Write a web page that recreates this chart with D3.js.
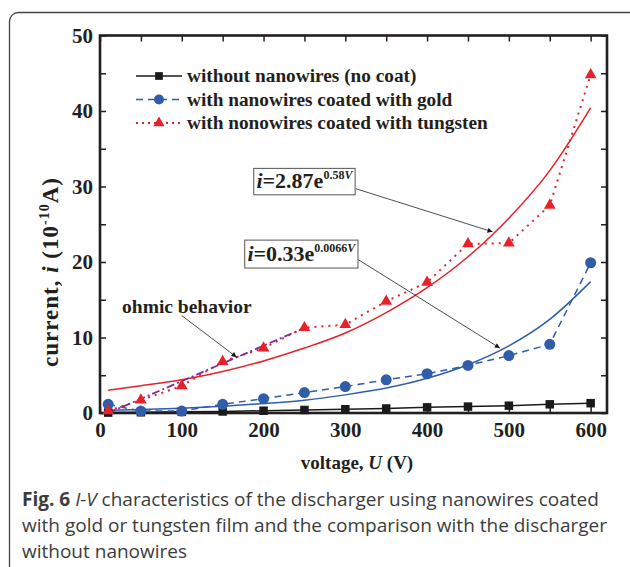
<!DOCTYPE html>
<html>
<head>
<meta charset="utf-8">
<script src="https://cdn.jsdelivr.net/npm/d3@7"></script>
<style>
  body { margin: 0; background: #fff; }
  .serif { font-family: "Liberation Serif", "Times New Roman", serif; }
  .sans { font-family: "Open Sans", "Noto Sans", sans-serif; }
</style>
</head>
<body>
<div id="chart"></div>
<script>
// voltage (V)
const volts = [10, 50, 100, 150, 200, 250, 300, 350, 400, 450, 500, 550, 600];
// current (1e-10 A)
const noCoat   = [0.05, 0.1, 0.15, 0.2, 0.3, 0.4, 0.5, 0.6, 0.75, 0.85, 0.97, 1.15, 1.3];
const gold     = [1.15, 0.26, 0.26, 1.15, 1.9, 2.7, 3.5, 4.4, 5.2, 6.3, 7.6, 9.1, 19.9];
const tungsten = [0.3, 1.7, 3.6, 6.8, 8.6, 11.3, 11.7, 14.8, 17.3, 22.4, 22.5, 27.5, 44.8];
// exponential fits
const fitGold     = [0.35, 0.46, 0.64, 0.9, 1.25, 1.7, 2.4, 3.3, 4.6, 6.4, 8.9, 12.4, 17.4];
const fitTungsten = [3.0, 3.6, 4.4, 5.5, 6.9, 8.6, 10.6, 13.3, 16.6, 20.7, 25.8, 32.1, 40.4];
// ohmic region
const ohmicV = [10, 255];
const ohmicI = [0, 11.5];

const xTicks = [0, 100, 200, 300, 400, 500, 600];
const yTicks = [0, 10, 20, 30, 40, 50];
const legendNames = ['without nanowires (no coat)', 'with nanowires coated with gold', 'with nonowires coated with tungsten'];

const W = 630, H = 567;
const red = '#e8202a', blue = '#2f5daa', black = '#1a1a1a', purple = '#7a2f98';
const ink = '#231f20';

const svg = d3.select('#chart').append('svg')
    .attr('width', W).attr('height', H);

// outer frame
svg.append('rect')
    .attr('x', 9.5).attr('y', 12.5)
    .attr('width', 630).attr('height', 566)
    .attr('rx', 9)
    .attr('fill', 'none').attr('stroke', '#444').attr('stroke-width', 1.3);

const x = d3.scaleLinear().domain([0, 620]).range([100, 607]);
const y = d3.scaleLinear().domain([0, 50]).range([413, 35.5]);

const minorX = d3.range(0, 601, 50);
const minorY = d3.range(0, 51, 5);

function styleAxis(g, labels) {
    g.select('.domain').remove();
    g.selectAll('line').attr('stroke', ink).attr('stroke-width', 1.5);
    g.selectAll('text')
        .attr('class', 'serif')
        .attr('fill', ink)
        .style('font-size', '21px')
        .style('font-weight', 'bold');
    if (!labels) g.selectAll('text').remove();
}

const fmtX = d => xTicks.includes(d) ? d : '';
const fmtY = d => yTicks.includes(d) ? d : '';

svg.append('g').attr('transform', 'translate(0,' + y(0) + ')')
    .call(d3.axisBottom(x).tickValues(minorX).tickSize(-6).tickPadding(9).tickFormat(fmtX))
    .call(g => styleAxis(g, true));
svg.append('g').attr('transform', 'translate(0,' + y(50) + ')')
    .call(d3.axisTop(x).tickValues(minorX).tickSize(-6).tickFormat(''))
    .call(g => styleAxis(g, false));
svg.append('g').attr('transform', 'translate(' + x(0) + ',0)')
    .call(d3.axisLeft(y).tickValues(minorY).tickSize(-6).tickPadding(7).tickFormat(fmtY))
    .call(g => styleAxis(g, true));
svg.append('g').attr('transform', 'translate(' + x(620) + ',0)')
    .call(d3.axisRight(y).tickValues(minorY).tickSize(-6).tickFormat(''))
    .call(g => styleAxis(g, false));

svg.append('rect')
    .attr('x', x(0)).attr('y', y(50))
    .attr('width', x(620) - x(0)).attr('height', y(0) - y(50))
    .attr('fill', 'none').attr('stroke', ink).attr('stroke-width', 2.6);

// axis titles
const xt = svg.append('text')
    .attr('class', 'serif')
    .attr('x', 357).attr('y', 469)
    .attr('text-anchor', 'middle')
    .attr('fill', ink)
    .style('font-size', '19px').style('font-weight', 'bold');
xt.append('tspan').text('voltage, ');
xt.append('tspan').style('font-style', 'italic').text('U');
xt.append('tspan').text(' (V)');

const yt = svg.append('text')
    .attr('class', 'serif')
    .attr('transform', 'translate(58,272) rotate(-90)')
    .attr('text-anchor', 'middle')
    .attr('fill', ink)
    .style('font-size', '23px').style('font-weight', 'bold')
    .style('letter-spacing', '1px');
yt.append('tspan').text('current, ');
yt.append('tspan').style('font-style', 'italic').text('i');
yt.append('tspan').text(' (10');
yt.append('tspan').attr('dy', -9).style('font-size', '14px').text('-10');
yt.append('tspan').attr('dy', 9).text('A)');

// data
const pts = arr => volts.map((v, i) => [v, arr[i]]);
const line = d3.line().x(d => x(d[0])).y(d => y(d[1]));
const smooth = d3.line().x(d => x(d[0])).y(d => y(d[1])).curve(d3.curveMonotoneX);

const plot = svg.append('g');

plot.append('path').datum(pts(fitTungsten)).attr('d', smooth)
    .attr('fill', 'none').attr('stroke', red).attr('stroke-width', 1.5);
plot.append('path').datum(pts(fitGold)).attr('d', smooth)
    .attr('fill', 'none').attr('stroke', blue).attr('stroke-width', 1.5);

plot.append('path').datum(pts(noCoat)).attr('d', line)
    .attr('fill', 'none').attr('stroke', black).attr('stroke-width', 1.5);
plot.append('path').datum(pts(gold)).attr('d', line)
    .attr('fill', 'none').attr('stroke', blue).attr('stroke-width', 1.5)
    .attr('stroke-dasharray', '7,5');
plot.append('path').datum(pts(tungsten)).attr('d', line)
    .attr('fill', 'none').attr('stroke', red).attr('stroke-width', 2)
    .attr('stroke-dasharray', '2,5');

plot.append('path').datum(ohmicV.map((v, i) => [v, ohmicI[i]])).attr('d', line)
    .attr('fill', 'none').attr('stroke', purple).attr('stroke-width', 1.8)
    .attr('stroke-dasharray', '8,3,2,3');

const sym = (type, size) => d3.symbol().type(type).size(size);

plot.selectAll('.sq').data(pts(noCoat)).enter().append('path')
    .attr('transform', d => 'translate(' + x(d[0]) + ',' + y(d[1]) + ')')
    .attr('d', sym(d3.symbolSquare, 72)).attr('fill', black);
plot.selectAll('.ci').data(pts(gold)).enter().append('path')
    .attr('transform', d => 'translate(' + x(d[0]) + ',' + y(d[1]) + ')')
    .attr('d', sym(d3.symbolCircle, 95)).attr('fill', blue);
plot.selectAll('.tr').data(pts(tungsten)).enter().append('path')
    .attr('transform', d => 'translate(' + x(d[0]) + ',' + y(d[1]) + ')')
    .attr('d', sym(d3.symbolTriangle, 60)).attr('fill', red);

// legend
const legend = svg.append('g');
const lgStyles = [
    { c: black, dash: null, w: 1.5, s: d3.symbolSquare, size: 60 },
    { c: blue, dash: '7,5', w: 1.5, s: d3.symbolCircle, size: 80 },
    { c: red, dash: '2,4', w: 2, s: d3.symbolTriangle, size: 55 }
];
legendNames.forEach((name, i) => {
    const ly = 76 + i * 23.5;
    const st = lgStyles[i];
    legend.append('line')
        .attr('x1', 136).attr('x2', 182).attr('y1', ly).attr('y2', ly)
        .attr('stroke', st.c).attr('stroke-width', st.w)
        .attr('stroke-dasharray', st.dash);
    legend.append('path')
        .attr('transform', 'translate(159,' + ly + ')')
        .attr('d', sym(st.s, st.size)).attr('fill', st.c);
    legend.append('text')
        .attr('class', 'serif')
        .attr('x', 187).attr('y', ly + 6)
        .attr('fill', ink)
        .style('font-size', '19.3px').style('font-weight', 'bold')
        .text(name);
});

// annotations
const defs = svg.append('defs');
defs.append('marker')
    .attr('id', 'arrow').attr('viewBox', '0 0 10 10')
    .attr('refX', 10).attr('refY', 5)
    .attr('markerWidth', 9).attr('markerHeight', 5)
    .attr('markerUnits', 'userSpaceOnUse')
    .attr('orient', 'auto')
    .append('path').attr('d', 'M0,0L10,5L0,10z').attr('fill', '#111');

function arrow(v1, i1, v2, i2) {
    svg.append('line')
        .attr('x1', x(v1)).attr('y1', y(i1))
        .attr('x2', x(v2)).attr('y2', y(i2))
        .attr('stroke', '#222').attr('stroke-width', 0.8)
        .attr('marker-end', 'url(#arrow)');
}

function eqBox(v0, v1, i0, i1, coef, expo) {
    svg.append('rect')
        .attr('x', x(v0)).attr('y', y(i0))
        .attr('width', x(v1) - x(v0)).attr('height', y(i1) - y(i0))
        .attr('fill', '#fff').attr('stroke', '#555').attr('stroke-width', 1);
    const t = svg.append('text')
        .attr('class', 'serif')
        .attr('x', (x(v0) + x(v1)) / 2).attr('y', y(i1) - 7)
        .attr('text-anchor', 'middle')
        .attr('fill', ink)
        .style('font-size', '22px').style('font-weight', 'bold');
    t.append('tspan').style('font-style', 'italic').text('i');
    t.append('tspan').text('=' + coef + 'e');
    t.append('tspan').attr('dy', -9).style('font-size', '12px').text(expo);
    t.append('tspan').style('font-size', '12px').style('font-style', 'italic').text('V');
}

eqBox(188, 312, 32.4, 28.9, '2.87', '0.58');
arrow(313, 29.7, 480, 24);
eqBox(177, 315.5, 22.9, 19.2, '0.33', '0.0066');
arrow(316, 20.3, 489, 8.6);

svg.append('text')
    .attr('class', 'serif')
    .attr('x', x(27)).attr('y', y(13.3))
    .attr('fill', ink)
    .style('font-size', '19.5px').style('font-weight', 'bold')
    .text('ohmic behavior');
arrow(100, 12.9, 167, 7.4);

// caption
const cap = svg.append('g')
    .attr('fill', '#3c3c3c');
const capText = (yy) => cap.append('text').attr('class', 'sans')
    .attr('x', 22).attr('y', yy).style('font-size', '19px');
const l1 = capText(506);
l1.append('tspan').style('font-weight', 'bold').text('Fig. 6 ');
l1.append('tspan').style('font-style', 'italic').text('I-V');
l1.append('tspan').text(' characteristics of the discharger using nanowires coated');
capText(532).text('with gold or tungsten film and the comparison with the discharger');
capText(558).text('without nanowires');
</script>
</body>
</html>
